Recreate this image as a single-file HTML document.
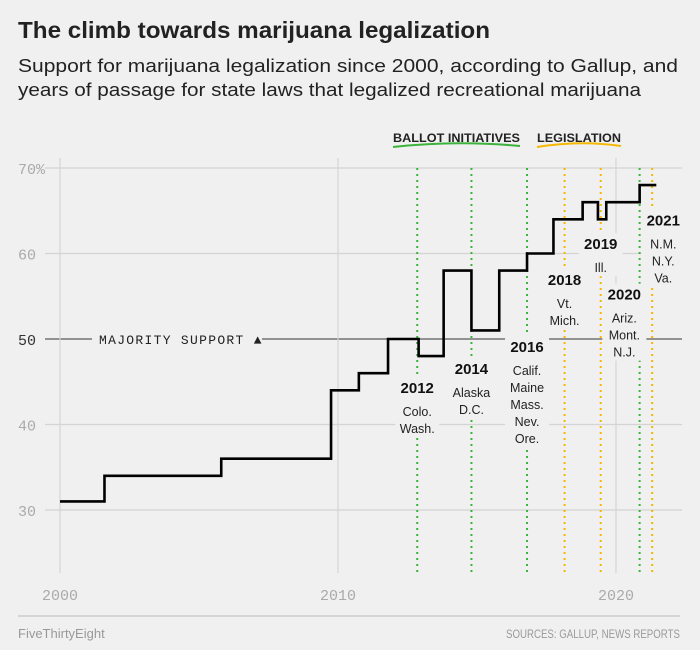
<!DOCTYPE html>
<html><head><meta charset="utf-8"><style>
body{margin:0;background:#f0f0f0;}
svg{display:block;font-family:"Liberation Sans",sans-serif;}
</style></head><body>
<svg id="c" width="700" height="650">
<rect width="700" height="650" fill="#f0f0f0"/>
<text x="18" y="38" font-size="23" font-weight="bold" fill="#222" textLength="472" lengthAdjust="spacingAndGlyphs">The climb towards marijuana legalization</text>
<text x="18" y="72" font-size="18" fill="#222" textLength="660" lengthAdjust="spacingAndGlyphs">Support for marijuana legalization since 2000, according to Gallup, and</text>
<text x="18" y="96" font-size="18" fill="#222" textLength="623" lengthAdjust="spacingAndGlyphs">years of passage for state laws that legalized recreational marijuana</text>
<g id="grid"></g><g id="marks"></g><g id="labels"></g>
<text x="393" y="142" font-size="12" font-weight="bold" fill="#222" textLength="127" lengthAdjust="spacingAndGlyphs">BALLOT INITIATIVES</text>
<path d="M393 147 Q456 140 520 146" stroke="#3cb33c" stroke-width="2" fill="none"/>
<text x="537" y="142" font-size="12" font-weight="bold" fill="#222" textLength="84" lengthAdjust="spacingAndGlyphs">LEGISLATION</text>
<path d="M537 147 Q580 140 621 146" stroke="#f5b800" stroke-width="2" fill="none"/>
<line x1="18" y1="616" x2="680" y2="616" stroke="#ccc" stroke-width="1.5"/>
<text x="18" y="638" font-size="13" fill="#999">FiveThirtyEight</text>
<text x="680" y="638" font-size="12" fill="#999" text-anchor="end" textLength="174" lengthAdjust="spacingAndGlyphs">SOURCES: GALLUP, NEWS REPORTS</text>
</svg>
<script>
const stepYears=[2000,2001.6,2005.8,2009.75,2010.75,2011.8,2012.9,2013.8,2014.8,2015.8,2016.8,2017.75,2018.8,2019.35,2019.65,2020.85,2021.45];
const stepValues=[31,34,36,44,46,50,48,58,51,58,60,64,66,64,66,68];
const yTicks=[30,40,50,60,70];
const yTickLabels=["30","40","50","60","70%"];
const xTicks=[2000,2010,2020];
const ballotYears=[2012.85,2014.8,2016.8,2020.85];
const legisYears=[2018.15,2019.45,2021.3];
const groupYears=["2012","2014","2016","2018","2019","2020","2021"];
const groupStates=[["Colo.","Wash."],["Alaska","D.C."],["Calif.","Maine","Mass.","Nev.","Ore."],["Vt.","Mich."],["Ill."],["Ariz.","Mont.","N.J."],["N.M.","N.Y.","Va."]];
const groupX=[2012.85,2014.8,2016.8,2018.15,2019.45,2020.3,2021.7];
const groupTopVal=[43.7,45.9,48.5,56.3,60.5,54.6,63.3];
const X=y=>60+(y-2000)*27.8;
const Y=v=>510-(v-30)*8.55;
const NS="http://www.w3.org/2000/svg";
function mk(parent,tag,attrs){const e=document.createElementNS(NS,tag);for(const k in attrs)e.setAttribute(k,attrs[k]);document.getElementById(parent).appendChild(e);return e;}
yTicks.forEach((t,i)=>{
 const l=mk('grid','line',{x1:45,x2:682,y1:Y(t),y2:Y(t),stroke:t===50?'#333':'#d4d4d4','stroke-width':t===50?1:1.2});
 
 
 const tx=mk('grid','text',{x:18,y:Y(t)+6,'font-size':15,fill:t===50?'#333':'#aaa','font-family':'Liberation Mono'});
 
 
 tx.textContent=yTickLabels[i];
});
xTicks.forEach(t=>{
 const l=mk('grid','line',{x1:X(t),x2:X(t),y1:158,y2:573,stroke:'#d4d4d4','stroke-width':1.2});
 
 
 const tx=mk('grid','text',{x:X(t),y:600,'font-size':15,fill:'#aaa','text-anchor':'middle','font-family':'Liberation Mono'});
 
 
 tx.textContent=String(t);
});
const mr=mk('grid','rect',{x:92,y:Y(50)-9,width:170,height:18,fill:'#f0f0f0'});


const mt=mk('grid','text',{x:99,y:Y(50)+5,'font-size':13,fill:'#222','font-family':'Liberation Mono','letter-spacing':'1.3'});


mt.textContent='MAJORITY SUPPORT ▲';
ballotYears.forEach(y=>{
 const l=mk('marks','line',{x1:X(y),x2:X(y),y1:168,y2:573,stroke:'#3cb33c','stroke-width':2,'stroke-dasharray':'2 4'});
 
 
});
legisYears.forEach(y=>{
 const l=mk('marks','line',{x1:X(y),x2:X(y),y1:168,y2:573,stroke:'#f5b800','stroke-width':2,'stroke-dasharray':'2 4'});
 
 
});
let d='';
stepValues.forEach((v,i)=>{d+=(i?'L':'M')+X(stepYears[i])+' '+Y(v)+' L'+X(stepYears[i+1])+' '+Y(v)+' ';});
const p=mk('marks','path',{d:d,stroke:'#000','stroke-width':2.6,fill:'none'});


groupYears.forEach((g,i)=>{
 const cx=X(groupX[i]);const ty=Y(groupTopVal[i]);
 const h=26+groupStates[i].length*17;
 const r=mk('labels','rect',{x:cx-22,y:ty-16,width:44,height:h,fill:'#f0f0f0'});
 
 
 const t=mk('labels','text',{x:cx,y:ty,'font-size':15,'font-weight':'bold','text-anchor':'middle',fill:'#111'});
 
 
 t.textContent=g;
 groupStates[i].forEach((s,j)=>{
  const st=mk('labels','text',{x:cx,y:ty+23+j*17,'font-size':12.5,'text-anchor':'middle',fill:'#222'});
  
  
  st.textContent=s;
 });
});
</script>
</body></html>
